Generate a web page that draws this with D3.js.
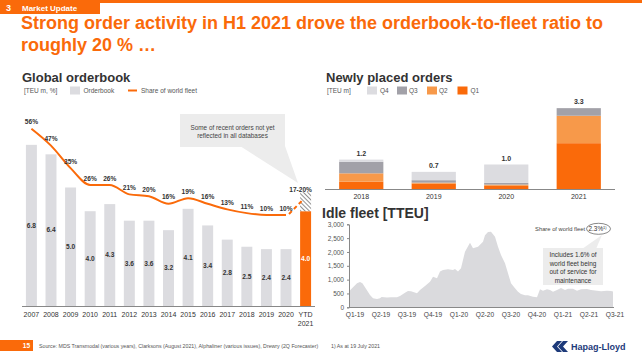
<!DOCTYPE html>
<html><head><meta charset="utf-8">
<script src="https://cdn.jsdelivr.net/npm/d3@7"></script>
<style>
body{margin:0;background:#fff;}
svg{display:block;font-family:"Liberation Sans",Arial,sans-serif;}
</style></head>
<body>
<svg id="c" width="642" height="360"></svg>
<script>
// ---------- data ----------
const obYears = ["2007","2008","2009","2010","2011","2012","2013","2014","2015","2016","2017","2018","2019","2020","YTD 2021"];
const obValues = [6.8,6.4,5.0,4.0,4.3,3.6,3.6,3.2,4.1,3.4,2.8,2.5,2.4,2.4,4.0];
const obHatch = 0.8; // extra, not yet reflected (YTD 2021)
const shareValues = [56,47,35,26,26,21,20,16,19,16,13,11,10,10];
const shareYTD = 18.5;
const shareYTDLabel = "17-20%";

const npYears = ["2018","2019","2020","2021"];
const npQ1 = [0.30,0.22,0.13,1.87];
const npQ2 = [0.34,0.04,0.05,1.12];
const npQ3 = [0.47,0.10,0.07,0.31];
const npQ4 = [0.09,0.34,0.75,0.00];
const npTotals = ["1.2","0.7","1.0","3.3"];

const idleWeek = [0,1,4,5.5,6.7,8.9,10.5,12,14,15.5,16.3,19,21,24,25.5,28,29.5,31,34,35.5,38,40.5,42,44,45.5,47,49.5,52,53,54.5,56,58,60.5,62,64.5,67,68,69.5,71,73,74.5,76,78,79.5,81,83,84.5,86,88,89.5,92,94,95.5,97,99,100.5,102,104,106,108,109.5,112,114,116,119,121,124,126,129,131,132];
const idleValue = [560,650,870,915,870,625,445,325,300,325,370,350,360,360,410,530,590,580,505,625,770,925,1105,1050,1290,1350,1375,1350,1385,1290,1410,2010,2335,2130,2190,2370,2600,2720,2735,2550,2190,1890,1590,1230,870,685,565,480,435,435,385,360,650,600,650,625,565,625,700,625,675,675,600,650,660,625,600,580,600,590,570];
const idleQuarters = ["Q1-19","Q2-19","Q3-19","Q4-19","Q1-20","Q2-20","Q3-20","Q4-20","Q1-21","Q2-21","Q3-21"];
const idleTicks = [0,500,1000,1500,2000,2500,3000];

// ---------- styles ----------
const ORANGE = "#fa6a0a", ORANGE2 = "#f7994a", GREY = "#dcdce0", DGREY = "#a2a1a8", TXT = "#333";
const svg = d3.select("#c");
const defs = svg.append("defs");
const pat = defs.append("pattern").attr("id","hatch").attr("patternUnits","userSpaceOnUse")
  .attr("width",3).attr("height",3).attr("patternTransform","rotate(-45)");
pat.append("rect").attr("width",3).attr("height",3).attr("fill","#fff");
pat.append("line").attr("x1",0).attr("y1",0).attr("x2",0).attr("y2",3).attr("stroke","#555").attr("stroke-width",1.3);

// ---------- header ----------
svg.append("rect").attr("x",0).attr("y",0).attr("width",642).attr("height",3).attr("fill",ORANGE);
svg.append("rect").attr("x",0).attr("y",0).attr("width",100).attr("height",14).attr("fill",ORANGE);
svg.append("text").attr("x",6).attr("y",10.5).attr("fill","#fff").attr("font-size",9).attr("font-weight","bold").text("3");
svg.append("text").attr("x",22).attr("y",10.5).attr("fill","#fff").attr("font-size",8).attr("font-weight","bold").text("Market Update");
const title = svg.append("text").attr("fill",ORANGE).attr("font-size",18).attr("font-weight","bold");
title.append("tspan").attr("x",21).attr("y",29).text("Strong order activity in H1 2021 drove the orderbook-to-fleet ratio to");
title.append("tspan").attr("x",21).attr("y",51).text("roughly 20 % \u2026");

// ---------- Global orderbook ----------
svg.append("text").attr("x",22).attr("y",82).attr("font-size",13).attr("font-weight","bold").attr("fill",TXT).text("Global orderbook");
svg.append("text").attr("x",24).attr("y",93).attr("font-size",6.5).attr("fill","#555").text("[TEU m, %]");
svg.append("rect").attr("x",70).attr("y",86.5).attr("width",10).attr("height",8).attr("fill",GREY);
svg.append("text").attr("x",83.5).attr("y",93).attr("font-size",6.5).attr("fill","#555").text("Orderbook");
svg.append("line").attr("x1",128).attr("x2",137).attr("y1",90.5).attr("y2",90.5).attr("stroke",ORANGE).attr("stroke-width",2);
svg.append("text").attr("x",141).attr("y",93).attr("font-size",6.5).attr("fill","#555").text("Share of world fleet");

const xL = d3.scaleBand().domain(obYears).range([22,315]).paddingInner(0.44).paddingOuter(0.2);
const yL = d3.scaleLinear().domain([0,7]).range([306,306-23.7*7]);
const yS = d3.scaleLinear().domain([0,60]).range([233.75,233.75-1.875*60]);

// callout
const cb = svg.append("g");
cb.append("path").attr("d","M240,146 L285,146 L298,183 Z").attr("fill","#ececec");
cb.append("rect").attr("x",180).attr("y",114).attr("width",105).attr("height",33).attr("fill","#ececec");
cb.append("text").attr("x",232.5).attr("y",129.5).attr("text-anchor","middle").attr("font-size",6.4).attr("fill","#444").text("Some of recent orders not yet");
cb.append("text").attr("x",232.5).attr("y",138).attr("text-anchor","middle").attr("font-size",6.4).attr("fill","#444").text("reflected in all databases");

const gL = svg.append("g");
gL.selectAll("rect.ob").data(obValues).join("rect").attr("class","ob")
  .attr("x",(d,i)=>xL(obYears[i])).attr("width",xL.bandwidth())
  .attr("y",d=>yL(d)).attr("height",d=>yL(0)-yL(d))
  .attr("fill",(d,i)=> i===obValues.length-1 ? ORANGE : GREY);
const last = obYears[obYears.length-1];
gL.append("rect").attr("x",xL(last)).attr("width",xL.bandwidth())
  .attr("y",yL(obValues[obValues.length-1]+obHatch)).attr("height",yL(0)-yL(obHatch)).attr("fill","url(#hatch)");
gL.selectAll("text.ov").data(obValues).join("text").attr("class","ov")
  .attr("x",(d,i)=>xL(obYears[i])+xL.bandwidth()/2).attr("y",d=>(yL(d)+yL(0))/2+2.3)
  .attr("text-anchor","middle").attr("font-size",6.6).attr("font-weight","bold")
  .attr("fill",(d,i)=> i===obValues.length-1 ? "#fff" : TXT).text(d=>d.toFixed(1));
// axis line
gL.append("line").attr("x1",22).attr("x2",315).attr("y1",306.5).attr("y2",306.5).attr("stroke","#888").attr("stroke-width",1.2);
gL.selectAll("text.xl").data(obYears).join("text").attr("class","xl")
  .attr("x",d=>xL(d)+xL.bandwidth()/2).attr("y",317).attr("text-anchor","middle").attr("font-size",7).attr("fill",TXT)
  .each(function(d){
    const parts=d.split(" ");
    const t=d3.select(this);
    parts.forEach((p,k)=>t.append("tspan").attr("x",xL(d)+xL.bandwidth()/2).attr("dy",k?9:0).text(p));
  });
// share line
const cx = i => xL(obYears[i])+xL.bandwidth()/2;
const line = d3.line().x((d,i)=>cx(i)).y(d=>yS(d)).curve(d3.curveMonotoneX);
gL.append("path").attr("d",line(shareValues)).attr("fill","none").attr("stroke",ORANGE).attr("stroke-width",2);
const n = shareValues.length;
gL.append("line").attr("x1",cx(n-1)+3).attr("y1",yS(shareValues[n-1])-1).attr("x2",cx(n)-2).attr("y2",yS(shareYTD))
  .attr("stroke",ORANGE).attr("stroke-width",2).attr("stroke-dasharray","4,3");
gL.selectAll("text.sl").data(shareValues).join("text").attr("class","sl")
  .attr("x",(d,i)=>cx(i)).attr("y",d=>yS(d)-4.5).attr("text-anchor","middle").attr("font-size",6.6).attr("font-weight","bold").attr("fill",TXT)
  .text(d=>d+"%");
gL.append("text").attr("x",cx(n)-5).attr("y",191.5).attr("text-anchor","middle").attr("font-size",6.6).attr("font-weight","bold").attr("fill",TXT).text(shareYTDLabel);

// ---------- Newly placed orders ----------
svg.append("text").attr("x",326).attr("y",82).attr("font-size",13).attr("font-weight","bold").attr("fill",TXT).text("Newly placed orders");
svg.append("text").attr("x",327).attr("y",93).attr("font-size",6.5).attr("fill","#555").text("[TEU m]");
const legQ = [["Q4",GREY,367,380],["Q3",DGREY,397,409],["Q2",ORANGE2,427,439],["Q1",ORANGE,457.5,470.5]];
legQ.forEach(q=>{
  svg.append("rect").attr("x",q[2]).attr("y",86.5).attr("width",10).attr("height",8).attr("fill",q[1]);
  svg.append("text").attr("x",q[3]).attr("y",93).attr("font-size",6.5).attr("fill","#555").text(q[0]);
});
const xN = d3.scaleBand().domain(npYears).range([325,615]).paddingInner(0.39).paddingOuter(0.195);
const yN = d3.scaleLinear().domain([0,3.5]).range([189,189-24.5*3.5]);
const npRows = npYears.map((y,i)=>({year:y,Q1:npQ1[i],Q2:npQ2[i],Q3:npQ3[i],Q4:npQ4[i]}));
const stack = d3.stack().keys(["Q1","Q2","Q3","Q4"])(npRows);
const colQ = {Q1:ORANGE,Q2:ORANGE2,Q3:DGREY,Q4:GREY};
const gN = svg.append("g");
stack.forEach(s=>{
  gN.selectAll(null).data(s).join("rect").attr("x",d=>xN(d.data.year)).attr("width",xN.bandwidth())
    .attr("y",d=>yN(d[1])).attr("height",d=>yN(d[0])-yN(d[1])).attr("fill",colQ[s.key]);
});
gN.selectAll("text.tot").data(npRows).join("text").attr("class","tot")
  .attr("x",d=>xN(d.year)+xN.bandwidth()/2).attr("y",d=>yN(d.Q1+d.Q2+d.Q3+d.Q4)-4)
  .attr("text-anchor","middle").attr("font-size",7).attr("font-weight","bold").attr("fill",TXT).text((d,i)=>npTotals[i]);
gN.append("line").attr("x1",325).attr("x2",615).attr("y1",189.5).attr("y2",189.5).attr("stroke","#888").attr("stroke-width",1.2);
gN.selectAll("text.ny").data(npYears).join("text").attr("class","ny")
  .attr("x",d=>xN(d)+xN.bandwidth()/2).attr("y",199).attr("text-anchor","middle").attr("font-size",7).attr("fill",TXT).text(d=>d);

// ---------- Idle fleet ----------
svg.append("text").attr("x",322).attr("y",218).attr("font-size",14).attr("font-weight","bold").attr("fill",TXT).text("Idle fleet [TTEU]");
const xI = d3.scaleLinear().domain([0,132]).range([349,613]);
const yI = d3.scaleLinear().domain([0,3000]).range([307.3,224.3]);
const area = d3.area().x((d,i)=>xI(idleWeek[i])).y0(yI(0)).y1(d=>yI(d)).curve(d3.curveLinear);
svg.append("path").attr("d",area(idleValue)).attr("fill","#dadadd");
const ya = svg.append("g").attr("transform","translate(349,0)")
  .call(d3.axisLeft(yI).tickValues(idleTicks).tickFormat(d3.format(",")).tickSize(2).tickPadding(3));
ya.selectAll("text").attr("font-size",6.5).attr("fill","#555").attr("font-family","Liberation Sans, Arial, sans-serif");
ya.selectAll("line,path").attr("stroke","#888");
svg.append("line").attr("x1",349).attr("x2",614).attr("y1",307.5).attr("y2",307.5).attr("stroke","#888").attr("stroke-width",1);
svg.selectAll("text.iq").data(idleQuarters).join("text").attr("class","iq")
  .attr("x",(d,i)=>xI(3+13*i)).attr("y",317).attr("text-anchor","middle").attr("font-size",6.6).attr("fill","#444").text(d=>d);
// annotation
svg.append("text").attr("x",585).attr("y",231).attr("text-anchor","end").attr("font-size",5.8).attr("fill","#444").text("Share of world fleet");
svg.append("ellipse").attr("cx",598.5).attr("cy",228.8).attr("rx",12).attr("ry",5.5).attr("fill","#fff").attr("stroke","#555").attr("stroke-width",0.7);
const t23 = svg.append("text").attr("x",588.5).attr("y",231.2).attr("font-size",6.4).attr("fill","#333");
t23.append("tspan").text("2.3%");
t23.append("tspan").attr("font-size",4).attr("dy",-2.5).text("1)");
svg.append("path").attr("d","M582,249 L596,249 L602,235 Z").attr("fill","#ececec");
svg.append("rect").attr("x",543).attr("y",248).attr("width",60).attr("height",37).attr("fill","#ececec");
["Includes 1.6% of","world fleet being","out of service for","maintenance"].forEach((s,k)=>{
  svg.append("text").attr("x",573).attr("y",257+k*8.6).attr("text-anchor","middle").attr("font-size",6.4).attr("fill","#333").text(s);
});

// ---------- footer ----------
svg.append("rect").attr("x",0).attr("y",340).attr("width",33).attr("height",11).attr("fill",ORANGE);
svg.append("text").attr("x",30).attr("y",348).attr("text-anchor","end").attr("font-size",6.5).attr("font-weight","bold").attr("fill","#fff").text("15");
svg.append("text").attr("x",39).attr("y",348).attr("font-size",5.25).attr("fill","#555")
  .text("Source: MDS Transmodal (various years), Clarksons (August 2021), Alphaliner (various issues), Drewry (2Q Forecaster)");
svg.append("text").attr("x",331).attr("y",348).attr("font-size",5.25).attr("fill","#555").text("1) As at 19 July 2021");
const logo = svg.append("g").attr("fill","#1d3a7a");
logo.append("path").attr("d","M557,341 L562,341 L557,346.5 L562,352 L557,352 L552,346.5 Z");
logo.append("path").attr("d","M563,341 L568,341 L563,346.5 L568,352 L563,352 L558,346.5 Z");
svg.append("text").attr("x",571).attr("y",350).attr("font-size",9).attr("font-weight","bold").attr("fill","#1d3a7a").text("Hapag-Lloyd");
</script>
</body></html>
